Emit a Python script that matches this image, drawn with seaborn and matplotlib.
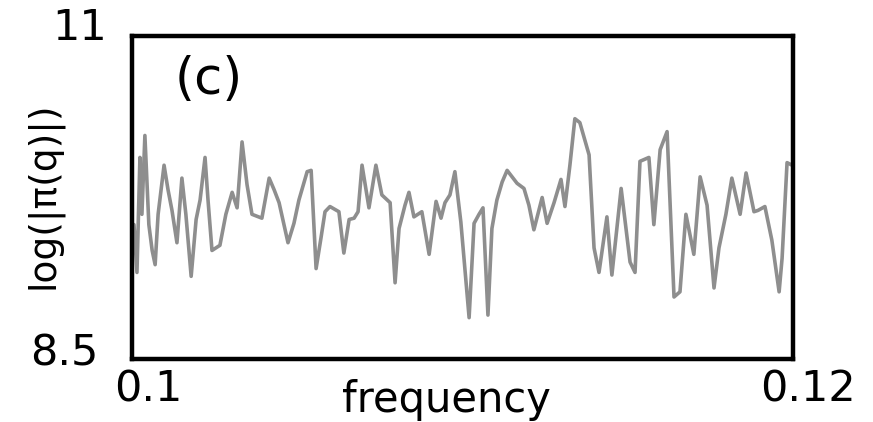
import matplotlib
matplotlib.use("Agg")
import matplotlib.pyplot as plt
import pandas as pd
import seaborn as sns

# Spectrum samples: frequency and log magnitude
freq = [
    0.10006, 0.10015, 0.10024, 0.10030, 0.10039, 0.10051, 0.10061, 0.10070, 0.10079, 0.10097,
    0.10109, 0.10121, 0.10136, 0.10151, 0.10163, 0.10179, 0.10194, 0.10206, 0.10221, 0.10230,
    0.10242, 0.10266, 0.10284, 0.10303, 0.10318, 0.10333, 0.10348, 0.10363, 0.10393, 0.10415,
    0.10430, 0.10445, 0.10472, 0.10490, 0.10505, 0.10530, 0.10542, 0.10557, 0.10572, 0.10584,
    0.10599, 0.10626, 0.10641, 0.10657, 0.10672, 0.10684, 0.10696, 0.10717, 0.10738, 0.10756,
    0.10781, 0.10796, 0.10808, 0.10826, 0.10838, 0.10853, 0.10877, 0.10899, 0.10920, 0.10935,
    0.10947, 0.10962, 0.10977, 0.10995, 0.11020, 0.11035, 0.11050, 0.11062, 0.11077, 0.11089,
    0.11104, 0.11120, 0.11135, 0.11165, 0.11186, 0.11201, 0.11216, 0.11241, 0.11256, 0.11277,
    0.11298, 0.11310, 0.11325, 0.11340, 0.11355, 0.11383, 0.11398, 0.11413, 0.11437, 0.11452,
    0.11480, 0.11507, 0.11522, 0.11537, 0.11564, 0.11579, 0.11598, 0.11619, 0.11640, 0.11658,
    0.11676, 0.11700, 0.11719, 0.11740, 0.11761, 0.11776, 0.11797, 0.11815, 0.11840, 0.11858,
    0.11882, 0.11894, 0.11915, 0.11936, 0.11958, 0.11967, 0.11982, 0.11997,
]
log_mag = [
    9.54, 9.17, 10.06, 9.62, 10.23, 9.54, 9.34, 9.23, 9.62, 10.00,
    9.81, 9.65, 9.40, 9.90, 9.62, 9.14, 9.58, 9.73, 10.06, 9.73,
    9.34, 9.38, 9.62, 9.79, 9.67, 10.18, 9.85, 9.62, 9.59, 9.90,
    9.81, 9.71, 9.40, 9.55, 9.73, 9.95, 9.96, 9.20, 9.44, 9.64,
    9.68, 9.64, 9.32, 9.58, 9.59, 9.64, 10.00, 9.67, 10.00, 9.77,
    9.71, 9.09, 9.51, 9.69, 9.79, 9.60, 9.64, 9.31, 9.72, 9.59,
    9.71, 9.77, 9.95, 9.56, 8.82, 9.55, 9.62, 9.67, 8.84, 9.51,
    9.73, 9.87, 9.96, 9.86, 9.82, 9.69, 9.50, 9.75, 9.55, 9.71,
    9.89, 9.68, 10.00, 10.36, 10.33, 10.08, 9.36, 9.17, 9.60, 9.15,
    9.82, 9.25, 9.17, 10.03, 10.06, 9.54, 10.12, 10.26, 8.98, 9.02,
    9.62, 9.31, 9.91, 9.69, 9.05, 9.36, 9.62, 9.90, 9.62, 9.94,
    9.64, 9.65, 9.68, 9.42, 9.02, 9.28, 10.02, 10.00,
]

x_tick_labels = ["0.1", "0.12"]
y_tick_labels = ["8.5", "11"]

sns.set_style("white")
plt.rcParams["font.family"] = ["DejaVu Sans"]
plt.rcParams["text.color"] = "black"

W, H = 873, 422
fig = plt.figure(figsize=(W / 100, H / 100), dpi=100)
ax = fig.add_axes([132 / W, 63 / H, 661 / W, 323 / H])

df = pd.DataFrame({"frequency": freq, "log_mag": log_mag})
sns.lineplot(data=df, x="frequency", y="log_mag", ax=ax, color="#8e8e8e",
             linewidth=2.6, sort=False)

ax.set_xlim(0.1, 0.12)
ax.set_ylim(8.5, 11)
ax.set_xticks([])
ax.set_yticks([])
ax.set_xlabel("")
ax.set_ylabel("")
for spine in ax.spines.values():
    spine.set_linewidth(3.2)
    spine.set_color("black")

def fx(px):
    return px / W

def fy(py):
    return 1 - py / H

tick_kw = dict(fontsize=31, ha="center", va="center", color="black")
fig.text(fx(80), fy(28), y_tick_labels[1], **tick_kw)
fig.text(fx(64), fy(354), y_tick_labels[0], **tick_kw)
fig.text(fx(148), fy(389), x_tick_labels[0], **tick_kw)
fig.text(fx(808), fy(389), x_tick_labels[1], **tick_kw)

fig.text(fx(446), fy(400), "frequency", fontsize=30, ha="center", va="center",
         color="black")
fig.text(fx(44), fy(195), "log(|π(q)|)", fontsize=27, rotation=90,
         ha="center", va="center", color="black")
fig.text(fx(209), fy(80), "(c)", fontsize=37, ha="center", va="center",
         color="black")

fig.savefig("out.png", dpi=100)
